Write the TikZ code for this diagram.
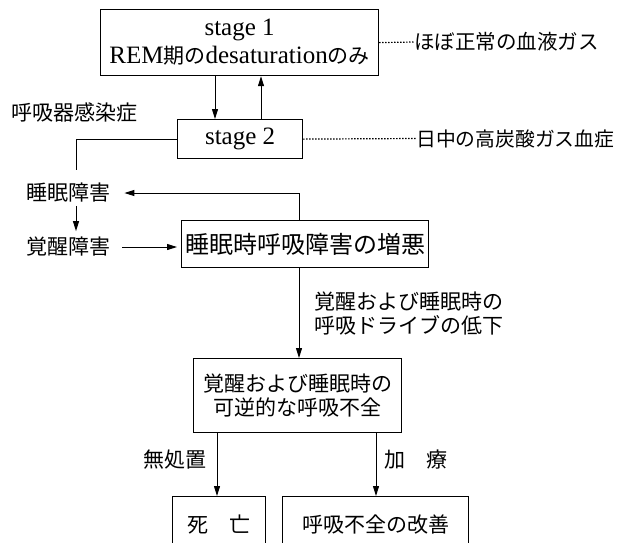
\documentclass[tikz,border=0pt]{standalone}
\usepackage{fontspec}
\setmainfont{Liberation Serif}
\newfontfamily\jp{Noto Sans CJK JP}
\usetikzlibrary{arrows.meta}
\newcommand\jpx[1]{{\jp\fontsize{21}{28}\selectfont #1}}
\begin{document}
\begin{tikzpicture}[x=1pt,y=-1pt,
  box/.style={draw, line width=1.2pt, inner sep=0pt, anchor=north west, align=center},
  jt/.style={font=\jp\fontsize{21}{24}\selectfont, inner sep=0pt},
  jts/.style={font=\jp\fontsize{19.8}{24}\selectfont, inner sep=0pt},
  lat/.style={font=\fontsize{25}{28}\selectfont},
  arr/.style={line width=1pt, -{Triangle[length=10pt,width=6pt]}},
  plain/.style={line width=1pt},
  dotline/.style={line width=1.2pt, dash pattern=on 1.3pt off 1.7pt},
]
\clip (0,0) rectangle (620,542);
\fill[white] (0,0) rectangle (620,542);

% stage 1
\node[box, lat, minimum width=278pt, minimum height=66pt] (s1) at (100,9)
  {stage 1\\REM\jpx{期の}desaturation\jpx{のみ}};
\node[jts, font=\jp\fontsize{20.5}{24}\selectfont, anchor=west] (l1) at (414,42) {ほぼ正常の血液ガス};
\draw[dotline] (s1.east) -- (l1.west);

% stage 2
\node[box, lat, minimum width=125pt, minimum height=39pt] (s2) at (177,119) {stage 2};
\node[jts, anchor=west] (l2) at (416,138.5) {日中の高炭酸ガス血症};
\draw[dotline] (s2.east) -- (l2.west);

\draw[arr] (s1.south -| 215,0) -- (s2.north -| 215,0);
\draw[arr] (s2.north -| 261,0) -- (s1.south -| 261,0);

\node[jt, anchor=west] (inf) at (11,112) {呼吸器感染症};

% sleep / arousal
\node[jt, anchor=west] (n1) at (26,193) {睡眠障害};
\node[jt, anchor=west] (n2) at (26,247) {覚醒障害};
\coordinate (c1) at (76,170);
\draw[plain] (s2.west) -| (c1);
\draw[arr, shorten <=3pt, shorten >=6pt] (n1.south -| 76,0) -- (n2.north -| 76,0);

% worsening box
\node[box, font=\jp\fontsize{24}{28}\selectfont, minimum width=247pt, minimum height=47pt] (b3) at (181,220)
  {睡眠時呼吸障害の増悪};
\draw[arr, shorten >=14pt] (b3.north -| 299,0) |- (n1.east);
\draw[arr, shorten <=12pt, shorten >=4pt] (n2.east) -- (n2.east -| b3.west);

% reversible failure
\node[box, jt, align=center, minimum width=208pt, minimum height=74pt] (b4) at (193,358)
  {覚醒および睡眠時の\\可逆的な呼吸不全};
\draw[arr] (b3.south -| 299,0) -- (b4.north -| 299,0);
\node[jt, align=left, anchor=west] (l3) at (314,313.5) {覚醒および睡眠時の\\呼吸ドライブの低下};

% outcomes
\node[box, jt, minimum width=93pt, minimum height=56pt] (b5) at (172,496) {死　亡};
\node[box, jt, minimum width=186pt, minimum height=56pt] (b6) at (282,496) {呼吸不全の改善};
\draw[arr] (b4.south -| 217,0) -- (b5.north -| 217,0);
\draw[arr] (b4.south -| 376,0) -- (b6.north -| 376,0);
\node[jt, anchor=east] (l4) at (207,460) {無処置};
\node[jt, anchor=west] (l5) at (384,460) {加　療};
\end{tikzpicture}
\end{document}
